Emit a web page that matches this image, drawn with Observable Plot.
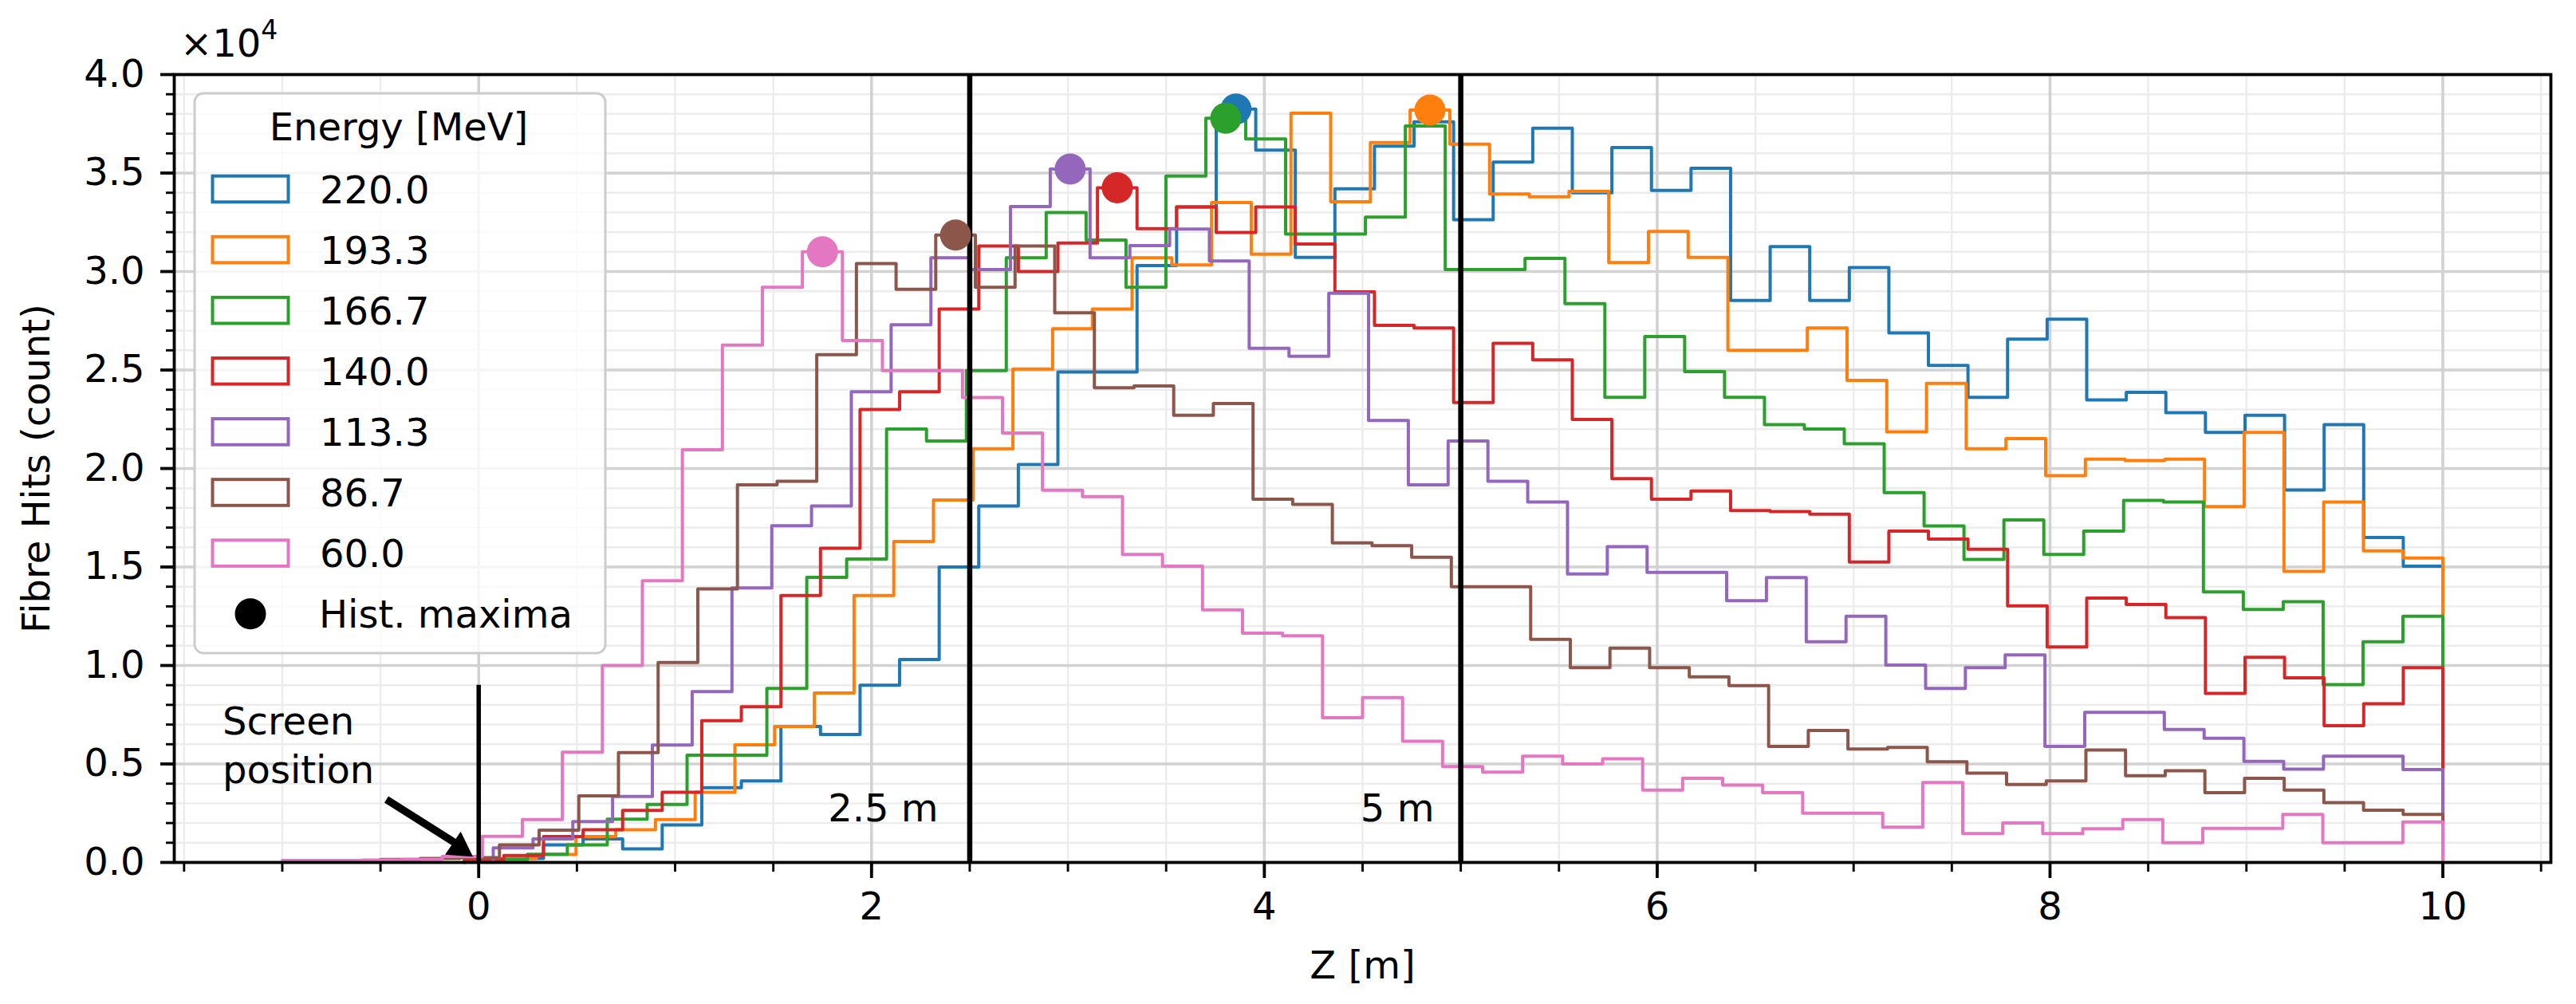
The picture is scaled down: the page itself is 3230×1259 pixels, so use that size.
<!DOCTYPE html>
<html>
<head>
<meta charset="utf-8">
<script src="https://cdn.jsdelivr.net/npm/d3@7"></script>
<script src="https://cdn.jsdelivr.net/npm/@observablehq/plot@0.6"></script>
<style>
  html, body { margin: 0; padding: 0; background: #ffffff; }
  svg { display: block; }
</style>
</head>
<body>
<div id="chart"></div>
<script>
// ---------- data ----------
const energies = ["220.0", "193.3", "166.7", "140.0", "113.3", "86.7", "60.0"];
const colors = ["#1f77b4", "#ff7f0e", "#2ca02c", "#d62728", "#9467bd", "#8c564b", "#e377c2"];
// lower edge of each histogram (m); every histogram ends at binEnd
const binStart = [-0.073, 0.091, 0.045, -0.073, 0.074, -0.5, -1.0];
const binEnd = 10;

const hits220 = [100, 200, 890, 1190, 690, 1900, 3800, 4140, 6900, 6500, 9000, 10300, 15000, 18100, 20200, 24900, 24900, 30300, 33280, 38250, 36160, 30720, 34200, 36370, 37600, 32630, 35560, 37280, 34000, 36300, 34120, 35240, 28530, 31270, 28530, 30200, 26880, 25230, 23610, 26570, 27580, 23480, 23870, 22830, 21830, 22700, 18910, 22230, 16500, 15040];
const hits193 = [200, 400, 1320, 1660, 2180, 3560, 5970, 6900, 8600, 13550, 16300, 18400, 21000, 25050, 27100, 28100, 30700, 30330, 33500, 30880, 38040, 33540, 36550, 38200, 36470, 33940, 33800, 34070, 30460, 32030, 30720, 26000, 26000, 27140, 24470, 21860, 24320, 21000, 21520, 19640, 20480, 20400, 20480, 18070, 21830, 14780, 18300, 15820, 15460];
const hits167 = [150, 420, 890, 2200, 2950, 5450, 5450, 8840, 14470, 15400, 22000, 21400, 24970, 30700, 33000, 31600, 29200, 34850, 37780, 36730, 31900, 31900, 32760, 37390, 30100, 30100, 30670, 28370, 23610, 26700, 24920, 23610, 22230, 22000, 21260, 18780, 17080, 15380, 17390, 15640, 16820, 18380, 18300, 13730, 12840, 13240, 9030, 11200, 12500];
const hits140 = [150, 350, 1320, 1660, 2640, 3560, 7200, 7900, 13550, 15950, 23000, 23900, 28100, 31300, 30000, 31450, 34250, 32180, 33280, 31980, 33280, 31400, 28970, 27270, 27140, 23350, 26360, 25520, 22490, 19480, 18440, 18860, 17860, 17810, 17680, 15250, 16820, 16420, 15900, 13030, 10940, 13420, 13100, 12430, 8580, 10410, 9370, 6940, 8060, 9890];
const hits113 = [740, 1190, 2070, 3350, 5960, 8670, 13940, 17100, 18100, 23900, 27300, 30700, 30100, 33300, 35200, 30700, 31320, 32160, 30540, 26100, 25700, 28900, 22440, 19170, 21400, 19350, 18300, 14650, 16030, 14730, 14730, 13290, 14460, 11200, 12500, 10020, 8840, 9890, 10540, 5890, 7620, 7620, 6750, 6310, 5130, 4740, 5390, 5390, 4720];
const hits87 = [150, 200, 240, 890, 1640, 3380, 5580, 10150, 13890, 19170, 19350, 25780, 30400, 29100, 31850, 29200, 31300, 27900, 24100, 24190, 22700, 23300, 18440, 18180, 16220, 16080, 15500, 14000, 14000, 11330, 9890, 10880, 9890, 9420, 8980, 5890, 6700, 5760, 5840, 5110, 4530, 3960, 4140, 5710, 4400, 4660, 3540, 4270, 3670, 3040, 2650, 2440];
const hits60 = [100, 100, 120, 150, 300, 1330, 2180, 5600, 10000, 14300, 20950, 26270, 29200, 31000, 26500, 24970, 24970, 23600, 21800, 18900, 18570, 15640, 15040, 12820, 11640, 11510, 7350, 8370, 6150, 4870, 4580, 5390, 5000, 5260, 3670, 4270, 3930, 3540, 2500, 2500, 1790, 4060, 1470, 2000, 1470, 1710, 2180, 1000, 1730, 1730, 2440, 1000, 1000, 2050];
const seriesValues = [hits220, hits193, hits167, hits140, hits113, hits87, hits60];

// ticks
const xMajorTicks = [0, 2, 4, 6, 8, 10];
const xMinorTicks = [-1.5, -1, -0.5, 0, 0.5, 1, 1.5, 2, 2.5, 3, 3.5, 4, 4.5, 5, 5.5, 6, 6.5, 7, 7.5, 8, 8.5, 9, 9.5, 10, 10.5];
const yMajorTicks = [0, 5000, 10000, 15000, 20000, 25000, 30000, 35000, 40000];
const yMinorTicks = d3.range(0, 40001, 1000);

// annotations
const distanceLines = [2.5, 5];
const distanceLabels = [{x: 2.34, y: 2065, t: "2.5 m"}, {x: 4.865, y: 2065, t: "5 m"}];
const screenLine = [{x: 0, y1: 0, y2: 9000}];
const screenText = [{x: -1.304, y: 4010, t: "Screen\nposition"}];
const arrowShaft = [{x1: -0.47, y1: 3200, x2: -0.115, y2: 960}];
const arrowTip = [{x: -0.03, y: 300}];

// ---------- build step outlines ----------
const steps = [];
const peaks = [];
seriesValues.forEach((vals, i) => {
  const E = energies[i];
  const n = vals.length;
  const s = binStart[i];
  const w = (binEnd - s) / n;
  const edge = k => s + k * w;
  steps.push({E, x: edge(0), y: 0});
  vals.forEach((v, k) => steps.push({E, x: edge(k), y: v}));
  steps.push({E, x: edge(n), y: vals[n - 1]});
  steps.push({E, x: edge(n), y: 0});
  const km = d3.maxIndex(vals);
  peaks.push({E, x: edge(km) + w / 2, y: vals[km]});
});

// ---------- plot ----------
const chart = Plot.plot({
  width: 3230,
  height: 1259,
  marginLeft: 218,
  marginRight: 32,
  marginTop: 93,
  marginBottom: 178,
  style: {fontFamily: "'DejaVu Sans', sans-serif", fontSize: "48px", color: "black", background: "white"},
  x: {domain: [-1.55, 10.55], label: null},
  y: {domain: [0, 40000], label: null},
  color: {domain: energies, range: colors},
  marks: [
    Plot.gridX(xMinorTicks, {stroke: "#ececec", strokeOpacity: 1, strokeWidth: 2.4}),
    Plot.gridY(yMinorTicks, {stroke: "#ececec", strokeOpacity: 1, strokeWidth: 2.4}),
    Plot.gridX(xMajorTicks, {stroke: "#d2d2d2", strokeOpacity: 1, strokeWidth: 3.6}),
    Plot.gridY(yMajorTicks, {stroke: "#d2d2d2", strokeOpacity: 1, strokeWidth: 3.6}),
    Plot.line(steps, {x: "x", y: "y", z: "E", stroke: "E", strokeWidth: 4, curve: "step-after"}),
    Plot.ruleX(distanceLines, {stroke: "black", strokeWidth: 6.5}),
    Plot.ruleX(screenLine, {x: "x", y1: "y1", y2: "y2", stroke: "black", strokeWidth: 5.5}),
    Plot.link(arrowShaft, {x1: "x1", y1: "y1", x2: "x2", y2: "y2", stroke: "black", strokeWidth: 9.5, strokeLinecap: "butt"}),
    Plot.dot(arrowTip, {x: "x", y: "y", symbol: "triangle", r: 13, fill: "black", rotate: 124, dx: -16.6, dy: -11.2}),
    Plot.dot(peaks, {x: "x", y: "y", fill: "E", r: 19.5}),
    Plot.text(distanceLabels, {x: "x", y: "y", text: "t", textAnchor: "end", lineAnchor: "bottom", fill: "black"}),
    Plot.text(screenText, {x: "x", y: "y", text: "t", textAnchor: "start", lineAnchor: "bottom", lineHeight: 1.29, fill: "black"}),
    Plot.frame({stroke: "black", strokeWidth: 3.8}),
    Plot.axisY(yMinorTicks, {tickSize: 10, tickFormat: () => "", strokeWidth: 2.9, label: null}),
    Plot.axisY(yMajorTicks, {tickSize: 17, tickPadding: 20, tickFormat: d => (d / 1e4).toFixed(1), strokeWidth: 3.8, label: null}),
    Plot.axisX(xMinorTicks, {tickSize: 12, tickFormat: () => "", strokeWidth: 2.9, label: null}),
    Plot.axisX(xMajorTicks, {tickSize: 20, tickPadding: 17, tickFormat: d => String(d), strokeWidth: 3.8, label: null}),
    Plot.text(["Fibre Hits (count)"], {frameAnchor: "left", rotate: -90, dx: -157, textAnchor: "middle", lineAnchor: "bottom", fill: "black"}),
    Plot.text(["Z [m]"], {frameAnchor: "bottom", dy: 145, textAnchor: "middle", lineAnchor: "bottom", fill: "black"})
  ]
});
document.getElementById("chart").appendChild(chart);

// ---------- offset text and legend ----------
const svg = d3.select(chart);
const off = svg.append("text").attr("x", 226).attr("y", 71).attr("fill", "black")
  .attr("font-size", 48).attr("text-anchor", "start");
off.append("tspan").text("×10");
off.append("tspan").attr("dy", -22).attr("font-size", 33).text("4");

const lg = svg.append("g").attr("text-anchor", "start");
lg.append("rect")
  .attr("x", 244).attr("y", 117).attr("width", 515).attr("height", 702).attr("rx", 11)
  .attr("fill", "white").attr("fill-opacity", 0.8)
  .attr("stroke", "#cccccc").attr("stroke-width", 3);
lg.append("text").attr("x", 500).attr("y", 176).attr("text-anchor", "middle").attr("fill", "black").text("Energy [MeV]");
const rowStep = 76.1;
energies.forEach((e, i) => {
  const cy = 237 + i * rowStep;
  lg.append("rect")
    .attr("x", 266.5).attr("y", cy - 16.3).attr("width", 95).attr("height", 32.6)
    .attr("fill", "none").attr("stroke", colors[i]).attr("stroke-width", 4);
  lg.append("text").attr("x", 401).attr("y", cy + 17.5).attr("text-anchor", "start").attr("fill", "black").text(e);
});
const cyM = 237 + energies.length * rowStep;
lg.append("circle").attr("cx", 314).attr("cy", cyM).attr("r", 19.5).attr("fill", "black");
lg.append("text").attr("x", 400).attr("y", cyM + 17.5).attr("text-anchor", "start").attr("fill", "black").text("Hist. maxima");
</script>
</body>
</html>
